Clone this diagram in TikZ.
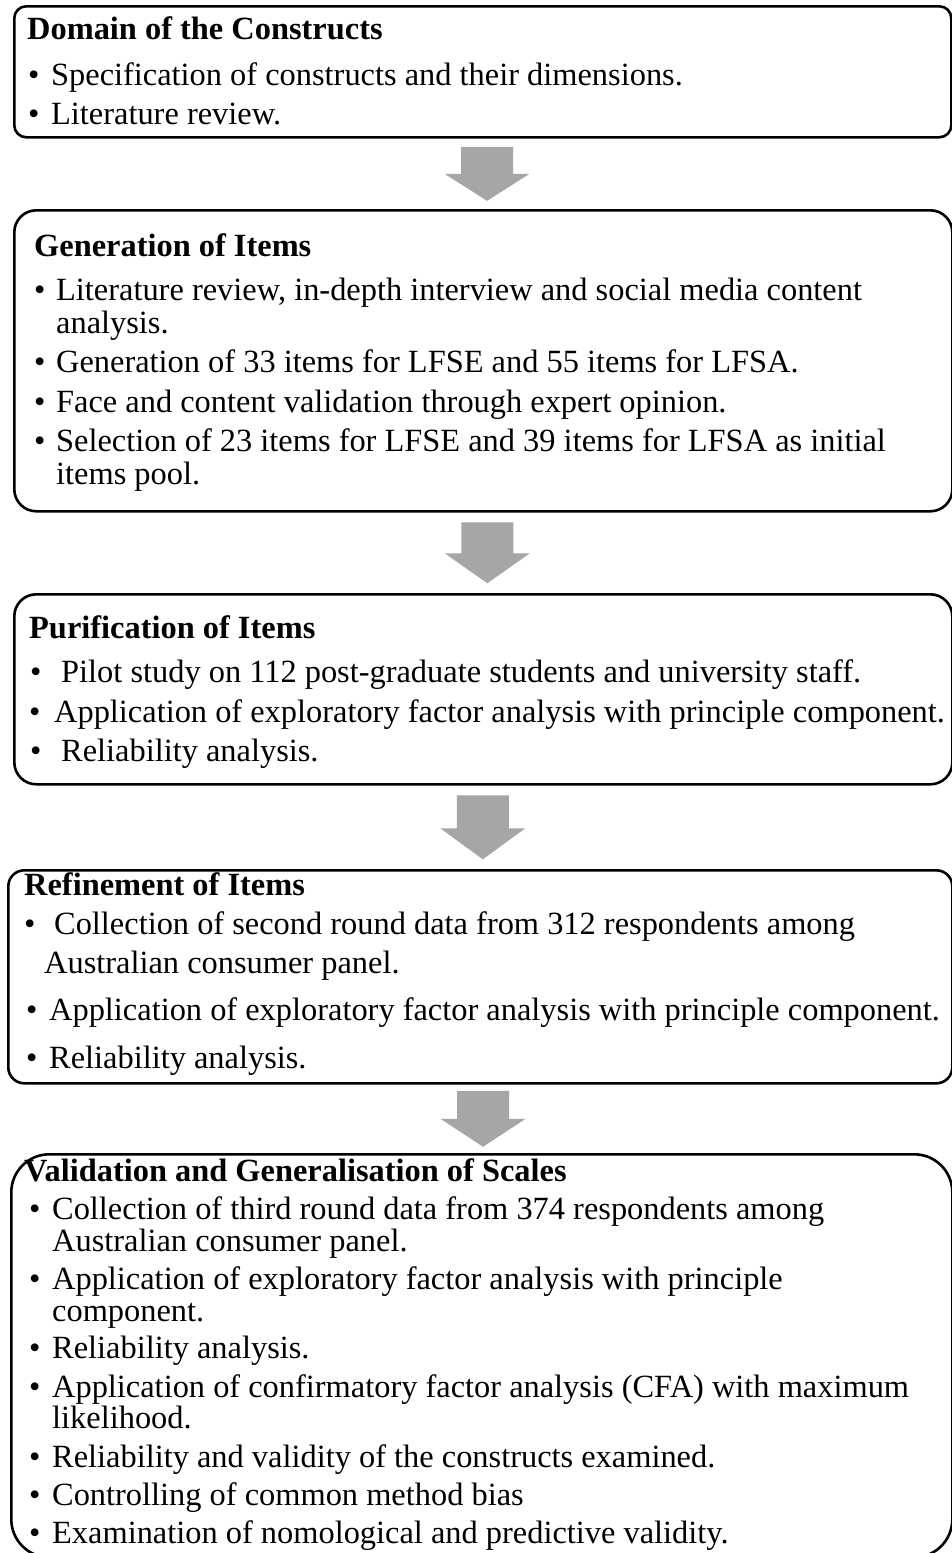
\documentclass[tikz,border=0pt]{standalone}
\usepackage{fontspec}
\setmainfont{Liberation Serif}
\usetikzlibrary{calc}
\definecolor{arrowgray}{RGB}{166,166,166}
\lineskiplimit=-100pt
\lineskip=0pt
% line break with a chosen baseline-to-baseline distance (pt)
\newcommand\nl[1]{\\[\dimexpr#1pt-32pt\relax]}
% bullet at offset #1, item text at offset #2
\newcommand\bitem[3]{\hspace*{#1pt}\makebox[\dimexpr#2pt-#1pt\relax][l]{\textbullet}#3}
% continuation line of an item, text at offset #1
\newcommand\cont[2]{\hspace*{#1pt}#2}
\tikzset{
  stagebox/.style={draw=black, line width=2.6pt, rectangle, inner sep=0pt, anchor=north west},
  stagetext/.style={anchor=base west, inner sep=0pt, font=\fontsize{32.4}{32}\selectfont},
  pics/downarr/.style 2 args={code={
    \fill[arrowgray] (-26,-#1/2) -- (26,-#1/2) -- (26,#1/2-#2) -- (42.5,#1/2-#2)
      -- (0,#1/2) -- (-42.5,#1/2-#2) -- (-26,#1/2-#2) -- cycle;}}
}
\begin{document}
\begin{tikzpicture}[x=1pt, y=-1pt]
\useasboundingbox[fill=white] (0,0) rectangle (952,1553);

% stage boxes
\node[stagebox, rounded corners=12pt, minimum width=937pt, minimum height=131pt] (b1) at (13,5) {};
\node[stagebox, rounded corners=22pt, minimum width=938pt, minimum height=301pt] (b2) at (13,209) {};
\node[stagebox, rounded corners=22pt, minimum width=938pt, minimum height=190pt] (b3) at (13,593) {};
\node[stagebox, rounded corners=16pt, minimum width=944pt, minimum height=213pt] (b4) at (7,869) {};
\node[stagebox, rounded corners=38pt, minimum width=941pt, minimum height=403pt] (b5) at (10,1153) {};

% block arrows between the stages
\path ($(b1.south)!.5!(b2.north)$) ++(4,0) pic {downarr={54}{27}};
\path ($(b2.south)!.5!(b3.north)$) ++(4,0) pic {downarr={61}{30}};
\path ($(b3.south)!.5!(b4.north)$) ++(1,0) pic {downarr={64}{31}};
\path ($(b4.south)!.5!(b5.north)$) ++(2,0) pic {downarr={56}{28}};

% stage contents
\node[stagetext] (t1) at (27,39) {\parbox[t]{1000pt}{%
  \textbf{Domain of the Constructs}\nl{46}
  \bitem{1}{24}{Specification of constructs and their dimensions.}\nl{39}
  \bitem{1}{24}{Literature review.}}};

\node[stagetext] (t2) at (34,256) {\parbox[t]{1000pt}{%
  \textbf{Generation of Items}\nl{44}
  \bitem{0}{22}{Literature review, in-depth interview and social media content}\nl{33}
  \cont{22}{analysis.}\nl{39}
  \bitem{0}{22}{Generation of 33 items for LFSE and 55 items for LFSA.}\nl{40}
  \bitem{0}{22}{Face and content validation through expert opinion.}\nl{39}
  \bitem{0}{22}{Selection of 23 items for LFSE and 39 items for LFSA as initial}\nl{33}
  \cont{22}{items pool.}}};

\node[stagetext] (t3) at (29,638) {\parbox[t]{1000pt}{%
  \textbf{Purification of Items}\nl{44}
  \bitem{1}{32}{Pilot study on 112 post-graduate students and university staff.}\nl{40}
  \bitem{0}{25}{Application of exploratory factor analysis with principle component.}\nl{39}
  \bitem{1}{32}{Reliability analysis.}}};

\node[stagetext] (t4) at (24,895) {\parbox[t]{1000pt}{%
  \textbf{Refinement of Items}\nl{39}
  \bitem{0}{30}{Collection of second round data from 312 respondents among}\nl{39}
  \cont{20}{Australian consumer panel.}\nl{47}
  \bitem{2}{25}{Application of exploratory factor analysis with principle component.}\nl{48}
  \bitem{2}{25}{Reliability analysis.}}};

\node[stagetext] (t5) at (24,1181) {\parbox[t]{1000pt}{%
  \textbf{Validation and Generalisation of Scales}\nl{38}
  \bitem{5}{28}{Collection of third round data from 374 respondents among}\nl{32}
  \cont{28}{Australian consumer panel.}\nl{38}
  \bitem{5}{28}{Application of exploratory factor analysis with principle}\nl{32}
  \cont{28}{component.}\nl{37}
  \bitem{5}{28}{Reliability analysis.}\nl{39}
  \bitem{5}{28}{Application of confirmatory factor analysis (CFA) with maximum}\nl{31}
  \cont{28}{likelihood.}\nl{39}
  \bitem{5}{28}{Reliability and validity of the constructs examined.}\nl{38}
  \bitem{5}{28}{Controlling of common method bias}\nl{38}
  \bitem{5}{28}{Examination of nomological and predictive validity.}}};
\end{tikzpicture}
\end{document}
